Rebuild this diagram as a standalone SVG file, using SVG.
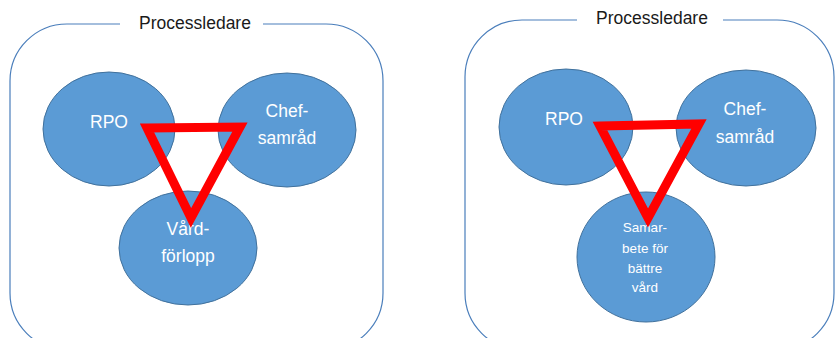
<svg xmlns="http://www.w3.org/2000/svg" width="838" height="338" viewBox="0 0 838 338">
<style>
.frame{fill:none;stroke:#4A7EBB;stroke-width:1.2}
.title{font-family:"Liberation Sans",Arial,sans-serif;font-size:17.5px;fill:#1a1a1a;text-anchor:middle}
.bub{fill:#5B9BD5;stroke:#41719C;stroke-width:1}
.lbl{font-family:"Liberation Sans",Arial,sans-serif;font-size:17.5px;fill:#ffffff;text-anchor:middle}
.sm{font-size:13.5px}
.tri{fill:none;stroke:#FF0000;stroke-width:9;stroke-linejoin:miter}
</style>
<rect width="838" height="338" fill="#ffffff"/>
<g id="panel-left">
<path class="frame" d="M263,24 H326 A57,57 0 0 1 383,81 V293 A57,57 0 0 1 326,350 H67 A57,57 0 0 1 10,293 V81 A57,57 0 0 1 67,24 H120"/>
<text class="title" x="195" y="29">Processledare</text>
</g>
<g id="left-rpo"><ellipse class="bub" cx="109" cy="129" rx="66" ry="57"/><text class="lbl" x="109" y="128">RPO</text></g>
<g id="left-chef"><ellipse class="bub" cx="287" cy="130" rx="69" ry="57"/><text class="lbl" x="287" y="117">Chef-</text><text class="lbl" x="287" y="144">samråd</text></g>
<g id="left-vard"><ellipse class="bub" cx="188" cy="248" rx="69" ry="57"/><text class="lbl" x="188" y="235">Vård-</text><text class="lbl" x="188" y="262">förlopp</text></g>
<g id="panel-right">
<path class="frame" d="M723,20 H777 A57,57 0 0 1 834,77 V293 A57,57 0 0 1 777,350 H522 A57,57 0 0 1 465,293 V77 A57,57 0 0 1 522,20 H577"/>
<text class="title" x="652" y="24">Processledare</text>
</g>
<g id="right-rpo"><ellipse class="bub" cx="566" cy="127" rx="67" ry="58"/><text class="lbl" x="564" y="125">RPO</text></g>
<g id="right-chef"><ellipse class="bub" cx="746" cy="128" rx="70" ry="58"/><text class="lbl" x="745" y="115">Chef-</text><text class="lbl" x="745" y="143">samråd</text></g>
<g id="right-samarbete"><ellipse class="bub" cx="646" cy="257" rx="69" ry="65"/>
<text class="lbl sm" x="645" y="232">Samar-</text><text class="lbl sm" x="645" y="253">bete för</text><text class="lbl sm" x="645" y="273">bättre</text><text class="lbl sm" x="645" y="292">vård</text></g>
<g id="connectors">
<path class="tri" d="M147,128 L240,127 L191,218 Z"/>
<path class="tri" d="M600,126 L699,124 L648,218 Z"/>
</g>
</svg>
